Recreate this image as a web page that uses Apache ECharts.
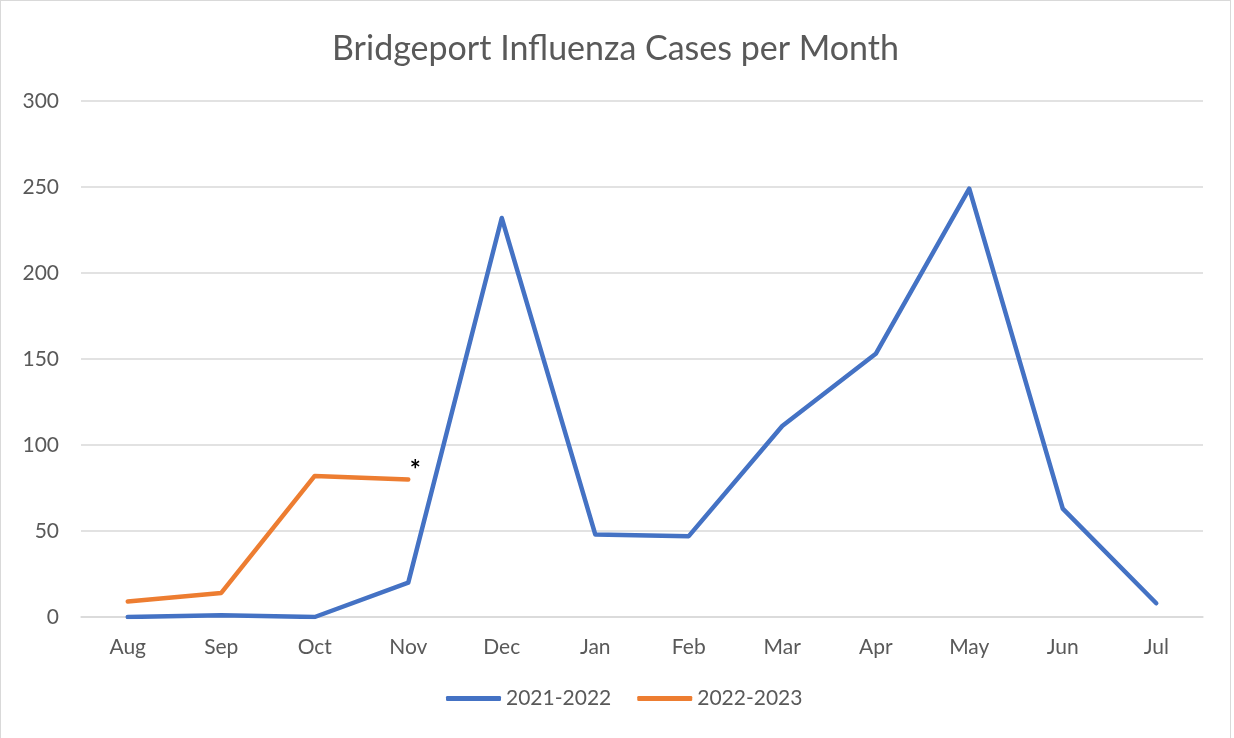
<!DOCTYPE html>
<html><head><meta charset="utf-8">
<script src="https://cdn.jsdelivr.net/npm/echarts@6/dist/echarts.min.js"></script>
<style>html,body{margin:0;padding:0;background:#fff}#c{position:absolute;left:0;top:0;width:1231px;height:738px;border:1px solid #d9d9d9;border-bottom:none;box-sizing:border-box}</style>
</head><body><div id="c"></div>
<script>
const months = ['Aug','Sep','Oct','Nov','Dec','Jan','Feb','Mar','Apr','May','Jun','Jul'];
const s2122 = [0,1,0,20,232,48,47,111,153,249,63,8];
const s2223 = [9,14,82,80];
const yTicks = [0,50,100,150,200,250,300];
const font = 'Lato, "Open Sans", sans-serif';
const chart = echarts.init(document.getElementById('c'));
const orangeData = s2223.map((v,i)=> i===s2223.length-1 ? {value:v,label:{show:true,formatter:'*',position:'top',offset:[7,9],color:'#000',fontSize:26,fontWeight:'bold',fontFamily:font}} : v);
chart.setOption({
  animation:false,
  title:{text:'Bridgeport Influenza Cases per Month',left:'center',top:26,textStyle:{fontFamily:font,fontSize:34,fontWeight:'normal',color:'#595959'}},
  grid:{left:80,right:27,top:100,bottom:121},
  legend:{bottom:24,left:440,itemWidth:55,itemHeight:5,itemGap:26,icon:'roundRect',
    textStyle:{fontFamily:font,fontSize:21,color:'#595959',padding:[0,0,0,0]},
    data:['2021-2022','2022-2023']},
  xAxis:{type:'category',data:months,boundaryGap:true,
    axisLine:{lineStyle:{color:'#d9d9d9',width:1.5}},axisTick:{show:false},
    axisLabel:{fontFamily:font,fontSize:21,color:'#595959',margin:20}},
  yAxis:{type:'value',min:0,max:300,interval:50,
    axisLabel:{fontFamily:font,fontSize:21,color:'#595959',margin:22,formatter:v=>yTicks.includes(v)?String(v):''},
    splitLine:{lineStyle:{color:'#d9d9d9',width:1.5}},axisLine:{show:false},axisTick:{show:false}},
  series:[
    {name:'2021-2022',type:'line',data:s2122,showSymbol:false,symbol:'none',lineStyle:{width:4.5,color:'#4472C4',cap:'round',join:'round'},itemStyle:{color:'#4472C4'}},
    {name:'2022-2023',type:'line',data:orangeData,symbol:'circle',symbolSize:0.1,showSymbol:true,lineStyle:{width:4.5,color:'#ED7D31',cap:'round',join:'round'},itemStyle:{color:'#ED7D31'}}
  ]
});
</script></body></html>
